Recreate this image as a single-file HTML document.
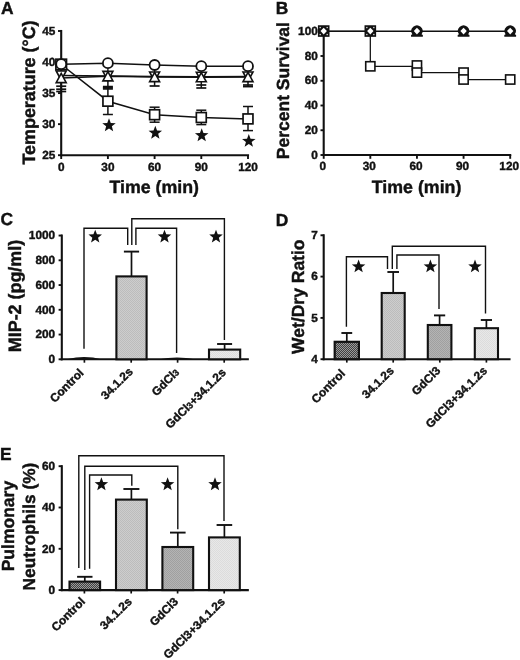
<!DOCTYPE html>
<html><head><meta charset="utf-8"><title>Figure</title>
<style>
html,body{margin:0;padding:0;background:#fff;}
body{width:520px;height:660px;overflow:hidden;font-family:"Liberation Sans",sans-serif;}
svg{display:block;opacity:0.999;will-change:transform;}
text{text-rendering:geometricPrecision;}
</style></head><body>
<svg width="520" height="660" viewBox="0 0 520 660">
<rect width="520" height="660" fill="#fff"/>
<text x="1.10" y="14.00" font-size="17.40" text-anchor="start" font-family="Liberation Sans, sans-serif" font-weight="bold" fill="#111" stroke="#111" stroke-width="0.42" >A</text>
<line x1="61.20" y1="29.95" x2="61.20" y2="156.25" stroke="#111" stroke-width="2.10"/>
<line x1="60.15" y1="155.20" x2="249.05" y2="155.20" stroke="#111" stroke-width="2.10"/>
<line x1="58.00" y1="31.00" x2="61.20" y2="31.00" stroke="#111" stroke-width="1.89"/>
<text x="55.30" y="34.70" font-size="11.80" text-anchor="end" font-family="Liberation Sans, sans-serif" font-weight="bold" fill="#111" stroke="#111" stroke-width="0.42" >45</text>
<line x1="58.00" y1="62.05" x2="61.20" y2="62.05" stroke="#111" stroke-width="1.89"/>
<text x="55.30" y="65.75" font-size="11.80" text-anchor="end" font-family="Liberation Sans, sans-serif" font-weight="bold" fill="#111" stroke="#111" stroke-width="0.42" >40</text>
<line x1="58.00" y1="93.10" x2="61.20" y2="93.10" stroke="#111" stroke-width="1.89"/>
<text x="55.30" y="96.80" font-size="11.80" text-anchor="end" font-family="Liberation Sans, sans-serif" font-weight="bold" fill="#111" stroke="#111" stroke-width="0.42" >35</text>
<line x1="58.00" y1="124.15" x2="61.20" y2="124.15" stroke="#111" stroke-width="1.89"/>
<text x="55.30" y="127.85" font-size="11.80" text-anchor="end" font-family="Liberation Sans, sans-serif" font-weight="bold" fill="#111" stroke="#111" stroke-width="0.42" >30</text>
<line x1="58.00" y1="155.20" x2="61.20" y2="155.20" stroke="#111" stroke-width="1.89"/>
<text x="55.30" y="158.90" font-size="11.80" text-anchor="end" font-family="Liberation Sans, sans-serif" font-weight="bold" fill="#111" stroke="#111" stroke-width="0.42" >25</text>
<line x1="61.20" y1="155.20" x2="61.20" y2="159.00" stroke="#111" stroke-width="1.89"/>
<text x="61.20" y="170.50" font-size="11.80" text-anchor="middle" font-family="Liberation Sans, sans-serif" font-weight="bold" fill="#111" stroke="#111" stroke-width="0.42" >0</text>
<line x1="107.90" y1="155.20" x2="107.90" y2="159.00" stroke="#111" stroke-width="1.89"/>
<text x="107.90" y="170.50" font-size="11.80" text-anchor="middle" font-family="Liberation Sans, sans-serif" font-weight="bold" fill="#111" stroke="#111" stroke-width="0.42" >30</text>
<line x1="154.60" y1="155.20" x2="154.60" y2="159.00" stroke="#111" stroke-width="1.89"/>
<text x="154.60" y="170.50" font-size="11.80" text-anchor="middle" font-family="Liberation Sans, sans-serif" font-weight="bold" fill="#111" stroke="#111" stroke-width="0.42" >60</text>
<line x1="201.30" y1="155.20" x2="201.30" y2="159.00" stroke="#111" stroke-width="1.89"/>
<text x="201.30" y="170.50" font-size="11.80" text-anchor="middle" font-family="Liberation Sans, sans-serif" font-weight="bold" fill="#111" stroke="#111" stroke-width="0.42" >90</text>
<line x1="248.00" y1="155.20" x2="248.00" y2="159.00" stroke="#111" stroke-width="1.89"/>
<text x="248.00" y="170.50" font-size="11.80" text-anchor="middle" font-family="Liberation Sans, sans-serif" font-weight="bold" fill="#111" stroke="#111" stroke-width="0.42" >120</text>
<text x="154.20" y="193.00" font-size="17.80" text-anchor="middle" font-family="Liberation Sans, sans-serif" font-weight="bold" fill="#111" stroke="#111" stroke-width="0.42" >Time (min)</text>
<text x="34.90" y="92.50" font-size="17.90" text-anchor="middle" font-family="Liberation Sans, sans-serif" font-weight="bold" fill="#111" stroke="#111" stroke-width="0.42" transform="rotate(-90 34.90 92.50)" >Temperature (°C)</text>
<line x1="61.20" y1="78.00" x2="61.20" y2="91.50" stroke="#111" stroke-width="1.50"/>
<line x1="56.20" y1="86.20" x2="66.20" y2="86.20" stroke="#111" stroke-width="1.70"/>
<line x1="56.20" y1="89.20" x2="66.20" y2="89.20" stroke="#111" stroke-width="1.70"/>
<line x1="56.20" y1="91.50" x2="66.20" y2="91.50" stroke="#111" stroke-width="1.70"/>
<line x1="107.90" y1="76.30" x2="107.90" y2="88.90" stroke="#111" stroke-width="1.50"/>
<line x1="102.90" y1="86.60" x2="112.90" y2="86.60" stroke="#111" stroke-width="1.70"/>
<line x1="102.90" y1="88.90" x2="112.90" y2="88.90" stroke="#111" stroke-width="1.70"/>
<line x1="154.60" y1="77.00" x2="154.60" y2="86.00" stroke="#111" stroke-width="1.50"/>
<line x1="149.60" y1="86.00" x2="159.60" y2="86.00" stroke="#111" stroke-width="1.70"/>
<line x1="201.30" y1="77.20" x2="201.30" y2="88.00" stroke="#111" stroke-width="1.50"/>
<line x1="196.30" y1="85.00" x2="206.30" y2="85.00" stroke="#111" stroke-width="1.70"/>
<line x1="196.30" y1="88.00" x2="206.30" y2="88.00" stroke="#111" stroke-width="1.70"/>
<line x1="248.00" y1="77.00" x2="248.00" y2="86.60" stroke="#111" stroke-width="1.50"/>
<line x1="243.00" y1="85.00" x2="253.00" y2="85.00" stroke="#111" stroke-width="1.70"/>
<line x1="243.00" y1="86.60" x2="253.00" y2="86.60" stroke="#111" stroke-width="1.70"/>
<line x1="107.90" y1="87.60" x2="107.90" y2="114.50" stroke="#111" stroke-width="1.50"/>
<line x1="102.90" y1="87.60" x2="112.90" y2="87.60" stroke="#111" stroke-width="1.50"/>
<line x1="102.90" y1="114.50" x2="112.90" y2="114.50" stroke="#111" stroke-width="1.50"/>
<line x1="154.60" y1="107.20" x2="154.60" y2="122.20" stroke="#111" stroke-width="1.50"/>
<line x1="149.60" y1="107.20" x2="159.60" y2="107.20" stroke="#111" stroke-width="1.50"/>
<line x1="149.60" y1="122.20" x2="159.60" y2="122.20" stroke="#111" stroke-width="1.50"/>
<line x1="201.30" y1="110.20" x2="201.30" y2="124.60" stroke="#111" stroke-width="1.50"/>
<line x1="196.30" y1="110.20" x2="206.30" y2="110.20" stroke="#111" stroke-width="1.50"/>
<line x1="196.30" y1="124.60" x2="206.30" y2="124.60" stroke="#111" stroke-width="1.50"/>
<line x1="248.00" y1="106.50" x2="248.00" y2="130.60" stroke="#111" stroke-width="1.50"/>
<line x1="243.00" y1="106.50" x2="253.00" y2="106.50" stroke="#111" stroke-width="1.50"/>
<line x1="243.00" y1="130.60" x2="253.00" y2="130.60" stroke="#111" stroke-width="1.50"/>
<line x1="61.20" y1="64.20" x2="61.20" y2="78.00" stroke="#111" stroke-width="1.30"/>
<line x1="107.90" y1="63.20" x2="107.90" y2="76.30" stroke="#111" stroke-width="1.30"/>
<line x1="154.60" y1="65.00" x2="154.60" y2="77.00" stroke="#111" stroke-width="1.30"/>
<line x1="201.30" y1="66.20" x2="201.30" y2="77.20" stroke="#111" stroke-width="1.30"/>
<line x1="248.00" y1="66.20" x2="248.00" y2="77.00" stroke="#111" stroke-width="1.30"/>
<polyline points="61.20,64.50 107.90,101.20 154.60,114.70 201.30,117.50 248.00,118.90" fill="none" stroke="#111" stroke-width="1.50" stroke-linejoin="miter"/>
<polyline points="61.20,78.00 107.90,76.30 154.60,77.00 201.30,77.20 248.00,77.00" fill="none" stroke="#111" stroke-width="1.50" stroke-linejoin="miter"/>
<polyline points="61.20,75.60 107.90,76.00 154.60,76.60 201.30,76.80 248.00,76.60" fill="none" stroke="#111" stroke-width="1.50" stroke-linejoin="miter"/>
<polyline points="61.20,64.20 107.90,63.20 154.60,65.00 201.30,66.20 248.00,66.20" fill="none" stroke="#111" stroke-width="1.50" stroke-linejoin="miter"/>
<rect x="55.90" y="59.20" width="10.60" height="10.60" fill="#fff" stroke="#111" stroke-width="1.70"/>
<rect x="102.95" y="96.25" width="9.90" height="9.90" fill="#fff" stroke="#111" stroke-width="1.70"/>
<rect x="149.65" y="109.75" width="9.90" height="9.90" fill="#fff" stroke="#111" stroke-width="1.70"/>
<rect x="196.35" y="112.55" width="9.90" height="9.90" fill="#fff" stroke="#111" stroke-width="1.70"/>
<rect x="243.05" y="113.95" width="9.90" height="9.90" fill="#fff" stroke="#111" stroke-width="1.70"/>
<polygon points="61.20,80.20 66.20,71.00 56.20,71.00" fill="#fff" stroke="#111" stroke-width="1.60"/>
<polygon points="107.90,80.60 112.90,71.40 102.90,71.40" fill="#fff" stroke="#111" stroke-width="1.60"/>
<polygon points="154.60,81.20 159.60,72.00 149.60,72.00" fill="#fff" stroke="#111" stroke-width="1.60"/>
<polygon points="201.30,81.40 206.30,72.20 196.30,72.20" fill="#fff" stroke="#111" stroke-width="1.60"/>
<polygon points="248.00,81.20 253.00,72.00 243.00,72.00" fill="#fff" stroke="#111" stroke-width="1.60"/>
<polygon points="61.20,73.40 66.20,82.60 56.20,82.60" fill="#fff" stroke="#111" stroke-width="1.60"/>
<polygon points="107.90,71.70 112.90,80.90 102.90,80.90" fill="#fff" stroke="#111" stroke-width="1.60"/>
<polygon points="154.60,72.40 159.60,81.60 149.60,81.60" fill="#fff" stroke="#111" stroke-width="1.60"/>
<polygon points="201.30,72.60 206.30,81.80 196.30,81.80" fill="#fff" stroke="#111" stroke-width="1.60"/>
<polygon points="248.00,72.40 253.00,81.60 243.00,81.60" fill="#fff" stroke="#111" stroke-width="1.60"/>
<circle cx="61.20" cy="64.20" r="5.00" fill="#fff" stroke="#111" stroke-width="1.80"/>
<circle cx="107.90" cy="63.20" r="5.00" fill="#fff" stroke="#111" stroke-width="1.80"/>
<circle cx="154.60" cy="65.00" r="5.00" fill="#fff" stroke="#111" stroke-width="1.80"/>
<circle cx="201.30" cy="66.20" r="5.00" fill="#fff" stroke="#111" stroke-width="1.80"/>
<circle cx="248.00" cy="66.20" r="5.00" fill="#fff" stroke="#111" stroke-width="1.80"/>
<polygon points="109.00,118.30 110.76,122.97 115.75,123.21 111.85,126.33 113.17,131.14 109.00,128.40 104.83,131.14 106.15,126.33 102.25,123.21 107.24,122.97" fill="#111"/>
<polygon points="155.30,125.80 157.06,130.47 162.05,130.71 158.15,133.83 159.47,138.64 155.30,135.90 151.13,138.64 152.45,133.83 148.55,130.71 153.54,130.47" fill="#111"/>
<polygon points="201.70,128.30 203.46,132.97 208.45,133.21 204.55,136.33 205.87,141.14 201.70,138.40 197.53,141.14 198.85,136.33 194.95,133.21 199.94,132.97" fill="#111"/>
<polygon points="248.80,134.00 250.56,138.67 255.55,138.91 251.65,142.03 252.97,146.84 248.80,144.10 244.63,146.84 245.95,142.03 242.05,138.91 247.04,138.67" fill="#111"/>
<text x="275.70" y="13.90" font-size="17.40" text-anchor="start" font-family="Liberation Sans, sans-serif" font-weight="bold" fill="#111" stroke="#111" stroke-width="0.42" >B</text>
<line x1="323.70" y1="30.20" x2="323.70" y2="156.05" stroke="#111" stroke-width="2.10"/>
<line x1="322.65" y1="155.00" x2="511.25" y2="155.00" stroke="#111" stroke-width="2.10"/>
<line x1="320.50" y1="31.25" x2="323.70" y2="31.25" stroke="#111" stroke-width="1.89"/>
<text x="317.80" y="34.95" font-size="11.80" text-anchor="end" font-family="Liberation Sans, sans-serif" font-weight="bold" fill="#111" stroke="#111" stroke-width="0.42" >100</text>
<line x1="320.50" y1="56.00" x2="323.70" y2="56.00" stroke="#111" stroke-width="1.89"/>
<text x="317.80" y="59.70" font-size="11.80" text-anchor="end" font-family="Liberation Sans, sans-serif" font-weight="bold" fill="#111" stroke="#111" stroke-width="0.42" >80</text>
<line x1="320.50" y1="80.75" x2="323.70" y2="80.75" stroke="#111" stroke-width="1.89"/>
<text x="317.80" y="84.45" font-size="11.80" text-anchor="end" font-family="Liberation Sans, sans-serif" font-weight="bold" fill="#111" stroke="#111" stroke-width="0.42" >60</text>
<line x1="320.50" y1="105.50" x2="323.70" y2="105.50" stroke="#111" stroke-width="1.89"/>
<text x="317.80" y="109.20" font-size="11.80" text-anchor="end" font-family="Liberation Sans, sans-serif" font-weight="bold" fill="#111" stroke="#111" stroke-width="0.42" >40</text>
<line x1="320.50" y1="130.25" x2="323.70" y2="130.25" stroke="#111" stroke-width="1.89"/>
<text x="317.80" y="133.95" font-size="11.80" text-anchor="end" font-family="Liberation Sans, sans-serif" font-weight="bold" fill="#111" stroke="#111" stroke-width="0.42" >20</text>
<line x1="320.50" y1="155.00" x2="323.70" y2="155.00" stroke="#111" stroke-width="1.89"/>
<text x="317.80" y="158.70" font-size="11.80" text-anchor="end" font-family="Liberation Sans, sans-serif" font-weight="bold" fill="#111" stroke="#111" stroke-width="0.42" >0</text>
<line x1="323.70" y1="155.00" x2="323.70" y2="158.80" stroke="#111" stroke-width="1.89"/>
<text x="322.70" y="170.30" font-size="11.80" text-anchor="middle" font-family="Liberation Sans, sans-serif" font-weight="bold" fill="#111" stroke="#111" stroke-width="0.42" >0</text>
<line x1="370.32" y1="155.00" x2="370.32" y2="158.80" stroke="#111" stroke-width="1.89"/>
<text x="369.32" y="170.30" font-size="11.80" text-anchor="middle" font-family="Liberation Sans, sans-serif" font-weight="bold" fill="#111" stroke="#111" stroke-width="0.42" >30</text>
<line x1="416.95" y1="155.00" x2="416.95" y2="158.80" stroke="#111" stroke-width="1.89"/>
<text x="415.95" y="170.30" font-size="11.80" text-anchor="middle" font-family="Liberation Sans, sans-serif" font-weight="bold" fill="#111" stroke="#111" stroke-width="0.42" >60</text>
<line x1="463.57" y1="155.00" x2="463.57" y2="158.80" stroke="#111" stroke-width="1.89"/>
<text x="462.57" y="170.30" font-size="11.80" text-anchor="middle" font-family="Liberation Sans, sans-serif" font-weight="bold" fill="#111" stroke="#111" stroke-width="0.42" >90</text>
<line x1="510.20" y1="155.00" x2="510.20" y2="158.80" stroke="#111" stroke-width="1.89"/>
<text x="509.20" y="170.30" font-size="11.80" text-anchor="middle" font-family="Liberation Sans, sans-serif" font-weight="bold" fill="#111" stroke="#111" stroke-width="0.42" >120</text>
<text x="416.60" y="193.00" font-size="17.80" text-anchor="middle" font-family="Liberation Sans, sans-serif" font-weight="bold" fill="#111" stroke="#111" stroke-width="0.42" >Time (min)</text>
<text x="289.40" y="90.60" font-size="17.50" text-anchor="middle" font-family="Liberation Sans, sans-serif" font-weight="bold" fill="#111" stroke="#111" stroke-width="0.42" transform="rotate(-90 289.40 90.60)" >Percent Survival</text>
<polyline points="323.70,31.25 370.32,31.25 370.32,66.30 416.95,66.30 416.95,72.60 463.57,72.60 463.57,79.50 510.20,79.50" fill="none" stroke="#111" stroke-width="1.25" stroke-linejoin="miter"/>
<line x1="323.70" y1="31.25" x2="510.20" y2="31.25" stroke="#111" stroke-width="1.60"/>
<rect x="365.72" y="61.70" width="9.20" height="9.20" fill="#fff" stroke="#111" stroke-width="1.60"/>
<rect x="412.35" y="60.90" width="9.20" height="9.20" fill="#fff" stroke="#111" stroke-width="1.60"/>
<rect x="412.35" y="68.00" width="9.20" height="9.20" fill="#fff" stroke="#111" stroke-width="1.60"/>
<rect x="458.97" y="68.00" width="9.20" height="9.20" fill="#fff" stroke="#111" stroke-width="1.60"/>
<rect x="458.97" y="74.90" width="9.20" height="9.20" fill="#fff" stroke="#111" stroke-width="1.60"/>
<rect x="505.60" y="74.90" width="9.20" height="9.20" fill="#fff" stroke="#111" stroke-width="1.60"/>
<rect x="317.90" y="25.25" width="11.6" height="11.6" fill="#111"/>
<polygon points="323.70,27.65 326.90,31.05 323.70,34.45 320.50,31.05" fill="#fff"/>
<rect x="319.55" y="26.90" width="1.3" height="1.3" fill="#ddd"/>
<rect x="319.55" y="33.90" width="1.3" height="1.3" fill="#ddd"/>
<rect x="326.55" y="26.90" width="1.3" height="1.3" fill="#ddd"/>
<rect x="326.55" y="33.90" width="1.3" height="1.3" fill="#ddd"/>
<rect x="364.52" y="25.25" width="11.6" height="11.6" fill="#111"/>
<polygon points="370.32,27.65 373.52,31.05 370.32,34.45 367.12,31.05" fill="#fff"/>
<rect x="366.18" y="26.90" width="1.3" height="1.3" fill="#ddd"/>
<rect x="366.18" y="33.90" width="1.3" height="1.3" fill="#ddd"/>
<rect x="373.18" y="26.90" width="1.3" height="1.3" fill="#ddd"/>
<rect x="373.18" y="33.90" width="1.3" height="1.3" fill="#ddd"/>
<path d="M411.05,36.85 L411.05,35.05 L412.35,34.25 A5.6,5.6 0 1 1 421.55,34.25 L422.85,35.05 L422.85,36.85 Z" fill="#111"/>
<polygon points="416.95,27.65 420.15,31.05 416.95,34.45 413.75,31.05" fill="#fff"/>
<path d="M457.68,36.85 L457.68,35.05 L458.97,34.25 A5.6,5.6 0 1 1 468.18,34.25 L469.47,35.05 L469.47,36.85 Z" fill="#111"/>
<polygon points="463.57,27.65 466.77,31.05 463.57,34.45 460.38,31.05" fill="#fff"/>
<path d="M504.30,36.85 L504.30,35.05 L505.60,34.25 A5.6,5.6 0 1 1 514.80,34.25 L516.10,35.05 L516.10,36.85 Z" fill="#111"/>
<polygon points="510.20,27.65 513.40,31.05 510.20,34.45 507.00,31.05" fill="#fff"/>
<defs>
<pattern id="pd" width="2" height="2" patternUnits="userSpaceOnUse"><rect width="2" height="2" fill="#404040"/><rect width="1" height="1" fill="#9a9a9a"/><rect x="1" y="1" width="1" height="1" fill="#9a9a9a"/></pattern>
<pattern id="pl" width="2" height="2" patternUnits="userSpaceOnUse"><rect width="2" height="2" fill="#cdcdcd"/><rect width="1" height="1" fill="#bcbcbc"/><rect x="1" y="1" width="1" height="1" fill="#bcbcbc"/></pattern>
<pattern id="pm" width="2" height="2" patternUnits="userSpaceOnUse"><rect width="2" height="2" fill="#b4b4b4"/><rect width="1" height="1" fill="#a0a0a0"/><rect x="1" y="1" width="1" height="1" fill="#a0a0a0"/></pattern>
<pattern id="pv" width="2" height="2" patternUnits="userSpaceOnUse"><rect width="2" height="2" fill="#e8e8e8"/><rect width="1" height="1" fill="#dcdcdc"/><rect x="1" y="1" width="1" height="1" fill="#dcdcdc"/></pattern>
</defs>
<text x="0.40" y="225.40" font-size="17.40" text-anchor="start" font-family="Liberation Sans, sans-serif" font-weight="bold" fill="#111" stroke="#111" stroke-width="0.42" >C</text>
<line x1="61.80" y1="234.50" x2="61.80" y2="360.35" stroke="#111" stroke-width="2.10"/>
<line x1="60.75" y1="359.30" x2="248.85" y2="359.30" stroke="#111" stroke-width="2.10"/>
<line x1="58.60" y1="235.55" x2="61.80" y2="235.55" stroke="#111" stroke-width="1.89"/>
<text x="55.10" y="239.25" font-size="11.80" text-anchor="end" font-family="Liberation Sans, sans-serif" font-weight="bold" fill="#111" stroke="#111" stroke-width="0.42" >1000</text>
<line x1="58.60" y1="260.30" x2="61.80" y2="260.30" stroke="#111" stroke-width="1.89"/>
<text x="55.10" y="264.00" font-size="11.80" text-anchor="end" font-family="Liberation Sans, sans-serif" font-weight="bold" fill="#111" stroke="#111" stroke-width="0.42" >800</text>
<line x1="58.60" y1="285.05" x2="61.80" y2="285.05" stroke="#111" stroke-width="1.89"/>
<text x="55.10" y="288.75" font-size="11.80" text-anchor="end" font-family="Liberation Sans, sans-serif" font-weight="bold" fill="#111" stroke="#111" stroke-width="0.42" >600</text>
<line x1="58.60" y1="309.80" x2="61.80" y2="309.80" stroke="#111" stroke-width="1.89"/>
<text x="55.10" y="313.50" font-size="11.80" text-anchor="end" font-family="Liberation Sans, sans-serif" font-weight="bold" fill="#111" stroke="#111" stroke-width="0.42" >400</text>
<line x1="58.60" y1="334.55" x2="61.80" y2="334.55" stroke="#111" stroke-width="1.89"/>
<text x="55.10" y="338.25" font-size="11.80" text-anchor="end" font-family="Liberation Sans, sans-serif" font-weight="bold" fill="#111" stroke="#111" stroke-width="0.42" >200</text>
<line x1="58.60" y1="359.30" x2="61.80" y2="359.30" stroke="#111" stroke-width="1.89"/>
<text x="55.10" y="363.00" font-size="11.80" text-anchor="end" font-family="Liberation Sans, sans-serif" font-weight="bold" fill="#111" stroke="#111" stroke-width="0.42" >0</text>
<line x1="84.40" y1="359.30" x2="84.40" y2="362.70" stroke="#111" stroke-width="1.68"/>
<line x1="131.20" y1="359.30" x2="131.20" y2="362.70" stroke="#111" stroke-width="1.68"/>
<line x1="177.60" y1="359.30" x2="177.60" y2="362.70" stroke="#111" stroke-width="1.68"/>
<line x1="224.20" y1="359.30" x2="224.20" y2="362.70" stroke="#111" stroke-width="1.68"/>
<text x="21.20" y="296.00" font-size="17.90" text-anchor="middle" font-family="Liberation Sans, sans-serif" font-weight="bold" fill="#111" stroke="#111" stroke-width="0.42" transform="rotate(-90 21.20 296.00)" >MIP-2 (pg/ml)</text>
<polyline points="84.00,348.80 84.00,228.20 127.70,228.20 127.70,245.00" fill="none" stroke="#111" stroke-width="1.40" stroke-linejoin="miter"/>
<polyline points="131.80,245.00 131.80,218.70 224.40,218.70 224.40,340.00" fill="none" stroke="#111" stroke-width="1.40" stroke-linejoin="miter"/>
<polyline points="135.90,245.00 135.90,228.20 176.60,228.20 176.60,353.00" fill="none" stroke="#111" stroke-width="1.40" stroke-linejoin="miter"/>
<polygon points="95.20,229.70 96.96,234.37 101.95,234.61 98.05,237.73 99.37,242.54 95.20,239.80 91.03,242.54 92.35,237.73 88.45,234.61 93.44,234.37" fill="#111"/>
<polygon points="164.50,229.70 166.26,234.37 171.25,234.61 167.35,237.73 168.67,242.54 164.50,239.80 160.33,242.54 161.65,237.73 157.75,234.61 162.74,234.37" fill="#111"/>
<polygon points="216.00,229.70 217.76,234.37 222.75,234.61 218.85,237.73 220.17,242.54 216.00,239.80 211.83,242.54 213.15,237.73 209.25,234.61 214.24,234.37" fill="#111"/>
<path d="M68,359 L76,357.6 L84,357.1 L93,357.6 L100,359 Z" fill="#111"/>
<line x1="131.50" y1="251.60" x2="131.50" y2="276.40" stroke="#111" stroke-width="1.70"/>
<line x1="123.90" y1="251.60" x2="139.10" y2="251.60" stroke="#111" stroke-width="1.90"/>
<rect x="116.40" y="276.40" width="30.20" height="82.90" fill="url(#pl)" stroke="#111" stroke-width="2.10"/>
<path d="M161,359 L168,357.9 L177,357.4 L186,357.9 L193,359 Z" fill="#111"/>
<line x1="224.60" y1="344.00" x2="224.60" y2="349.60" stroke="#111" stroke-width="1.70"/>
<line x1="217.10" y1="344.00" x2="232.10" y2="344.00" stroke="#111" stroke-width="1.90"/>
<rect x="209.00" y="349.60" width="31.20" height="9.70" fill="url(#pv)" stroke="#111" stroke-width="2.10"/>
<text x="84.40" y="373.60" font-size="11.80" text-anchor="end" font-family="Liberation Sans, sans-serif" font-weight="bold" fill="#111" stroke="#111" stroke-width="0.42" transform="rotate(-45 84.40 373.60)" >Control</text>
<text x="133.60" y="372.30" font-size="11.80" text-anchor="end" font-family="Liberation Sans, sans-serif" font-weight="bold" fill="#111" stroke="#111" stroke-width="0.42" transform="rotate(-45 133.60 372.30)" >34.1.2s</text>
<text x="180.00" y="373.10" font-size="11.80" text-anchor="end" font-family="Liberation Sans, sans-serif" font-weight="bold" fill="#111" stroke="#111" stroke-width="0.42" transform="rotate(-45 180.00 373.10)" >GdCl<tspan font-size="9.2">3</tspan></text>
<text x="226.60" y="373.10" font-size="11.80" text-anchor="end" font-family="Liberation Sans, sans-serif" font-weight="bold" fill="#111" stroke="#111" stroke-width="0.42" transform="rotate(-45 226.60 373.10)" >GdCl<tspan font-size="9.2">3</tspan>+34.1.2s</text>
<text x="275.70" y="225.50" font-size="17.40" text-anchor="start" font-family="Liberation Sans, sans-serif" font-weight="bold" fill="#111" stroke="#111" stroke-width="0.42" >D</text>
<line x1="323.70" y1="234.25" x2="323.70" y2="360.25" stroke="#111" stroke-width="2.10"/>
<line x1="322.65" y1="359.20" x2="510.55" y2="359.20" stroke="#111" stroke-width="2.10"/>
<line x1="320.50" y1="235.30" x2="323.70" y2="235.30" stroke="#111" stroke-width="1.89"/>
<text x="317.80" y="239.00" font-size="11.80" text-anchor="end" font-family="Liberation Sans, sans-serif" font-weight="bold" fill="#111" stroke="#111" stroke-width="0.42" >7</text>
<line x1="320.50" y1="276.60" x2="323.70" y2="276.60" stroke="#111" stroke-width="1.89"/>
<text x="317.80" y="280.30" font-size="11.80" text-anchor="end" font-family="Liberation Sans, sans-serif" font-weight="bold" fill="#111" stroke="#111" stroke-width="0.42" >6</text>
<line x1="320.50" y1="317.90" x2="323.70" y2="317.90" stroke="#111" stroke-width="1.89"/>
<text x="317.80" y="321.60" font-size="11.80" text-anchor="end" font-family="Liberation Sans, sans-serif" font-weight="bold" fill="#111" stroke="#111" stroke-width="0.42" >5</text>
<line x1="320.50" y1="359.20" x2="323.70" y2="359.20" stroke="#111" stroke-width="1.89"/>
<text x="317.80" y="362.90" font-size="11.80" text-anchor="end" font-family="Liberation Sans, sans-serif" font-weight="bold" fill="#111" stroke="#111" stroke-width="0.42" >4</text>
<line x1="346.80" y1="359.20" x2="346.80" y2="362.60" stroke="#111" stroke-width="1.68"/>
<line x1="393.20" y1="359.20" x2="393.20" y2="362.60" stroke="#111" stroke-width="1.68"/>
<line x1="439.80" y1="359.20" x2="439.80" y2="362.60" stroke="#111" stroke-width="1.68"/>
<line x1="486.40" y1="359.20" x2="486.40" y2="362.60" stroke="#111" stroke-width="1.68"/>
<text x="303.70" y="296.70" font-size="17.50" text-anchor="middle" font-family="Liberation Sans, sans-serif" font-weight="bold" fill="#111" stroke="#111" stroke-width="0.42" transform="rotate(-90 303.70 296.70)" >Wet/Dry Ratio</text>
<polyline points="346.40,326.80 346.40,256.80 387.50,256.80 387.50,269.00" fill="none" stroke="#111" stroke-width="1.40" stroke-linejoin="miter"/>
<polyline points="392.30,269.00 392.30,246.20 485.50,246.20 485.50,313.50" fill="none" stroke="#111" stroke-width="1.40" stroke-linejoin="miter"/>
<polyline points="396.90,269.00 396.90,255.00 439.00,255.00 439.00,309.00" fill="none" stroke="#111" stroke-width="1.40" stroke-linejoin="miter"/>
<polygon points="358.60,259.50 360.36,264.17 365.35,264.41 361.45,267.53 362.77,272.34 358.60,269.60 354.43,272.34 355.75,267.53 351.85,264.41 356.84,264.17" fill="#111"/>
<polygon points="430.40,259.50 432.16,264.17 437.15,264.41 433.25,267.53 434.57,272.34 430.40,269.60 426.23,272.34 427.55,267.53 423.65,264.41 428.64,264.17" fill="#111"/>
<polygon points="475.00,259.50 476.76,264.17 481.75,264.41 477.85,267.53 479.17,272.34 475.00,269.60 470.83,272.34 472.15,267.53 468.25,264.41 473.24,264.17" fill="#111"/>
<line x1="346.80" y1="333.00" x2="346.80" y2="341.80" stroke="#111" stroke-width="1.70"/>
<line x1="341.40" y1="333.00" x2="352.20" y2="333.00" stroke="#111" stroke-width="1.90"/>
<rect x="334.70" y="341.80" width="24.20" height="17.40" fill="url(#pd)" stroke="#111" stroke-width="2.20"/>
<line x1="393.20" y1="272.00" x2="393.20" y2="293.00" stroke="#111" stroke-width="1.70"/>
<line x1="387.40" y1="272.00" x2="399.00" y2="272.00" stroke="#111" stroke-width="1.90"/>
<rect x="381.70" y="293.00" width="23.00" height="66.20" fill="url(#pl)" stroke="#111" stroke-width="2.10"/>
<line x1="439.60" y1="315.40" x2="439.60" y2="325.00" stroke="#111" stroke-width="1.70"/>
<line x1="434.00" y1="315.40" x2="445.20" y2="315.40" stroke="#111" stroke-width="1.90"/>
<rect x="427.80" y="325.00" width="23.60" height="34.20" fill="url(#pm)" stroke="#111" stroke-width="2.10"/>
<line x1="486.40" y1="320.00" x2="486.40" y2="328.20" stroke="#111" stroke-width="1.70"/>
<line x1="480.80" y1="320.00" x2="492.00" y2="320.00" stroke="#111" stroke-width="1.90"/>
<rect x="474.80" y="328.20" width="23.20" height="31.00" fill="url(#pv)" stroke="#111" stroke-width="2.10"/>
<text x="345.80" y="374.30" font-size="11.80" text-anchor="end" font-family="Liberation Sans, sans-serif" font-weight="bold" fill="#111" stroke="#111" stroke-width="0.42" transform="rotate(-45 345.80 374.30)" >Control</text>
<text x="394.60" y="371.40" font-size="11.80" text-anchor="end" font-family="Liberation Sans, sans-serif" font-weight="bold" fill="#111" stroke="#111" stroke-width="0.42" transform="rotate(-45 394.60 371.40)" >34.1.2s</text>
<text x="441.20" y="371.40" font-size="11.80" text-anchor="end" font-family="Liberation Sans, sans-serif" font-weight="bold" fill="#111" stroke="#111" stroke-width="0.42" transform="rotate(-45 441.20 371.40)" >GdCl3</text>
<text x="487.80" y="371.40" font-size="11.80" text-anchor="end" font-family="Liberation Sans, sans-serif" font-weight="bold" fill="#111" stroke="#111" stroke-width="0.42" transform="rotate(-45 487.80 371.40)" >GdCl3+34.1.2s</text>
<text x="0.00" y="460.20" font-size="17.40" text-anchor="start" font-family="Liberation Sans, sans-serif" font-weight="bold" fill="#111" stroke="#111" stroke-width="0.42" >E</text>
<line x1="61.80" y1="465.15" x2="61.80" y2="591.15" stroke="#111" stroke-width="2.10"/>
<line x1="60.75" y1="590.10" x2="248.85" y2="590.10" stroke="#111" stroke-width="2.10"/>
<line x1="58.60" y1="466.20" x2="61.80" y2="466.20" stroke="#111" stroke-width="1.89"/>
<text x="55.10" y="469.90" font-size="11.80" text-anchor="end" font-family="Liberation Sans, sans-serif" font-weight="bold" fill="#111" stroke="#111" stroke-width="0.42" >60</text>
<line x1="58.60" y1="507.50" x2="61.80" y2="507.50" stroke="#111" stroke-width="1.89"/>
<text x="55.10" y="511.20" font-size="11.80" text-anchor="end" font-family="Liberation Sans, sans-serif" font-weight="bold" fill="#111" stroke="#111" stroke-width="0.42" >40</text>
<line x1="58.60" y1="548.80" x2="61.80" y2="548.80" stroke="#111" stroke-width="1.89"/>
<text x="55.10" y="552.50" font-size="11.80" text-anchor="end" font-family="Liberation Sans, sans-serif" font-weight="bold" fill="#111" stroke="#111" stroke-width="0.42" >20</text>
<line x1="58.60" y1="590.10" x2="61.80" y2="590.10" stroke="#111" stroke-width="1.89"/>
<text x="55.10" y="593.80" font-size="11.80" text-anchor="end" font-family="Liberation Sans, sans-serif" font-weight="bold" fill="#111" stroke="#111" stroke-width="0.42" >0</text>
<line x1="84.40" y1="590.10" x2="84.40" y2="593.50" stroke="#111" stroke-width="1.68"/>
<line x1="131.20" y1="590.10" x2="131.20" y2="593.50" stroke="#111" stroke-width="1.68"/>
<line x1="177.60" y1="590.10" x2="177.60" y2="593.50" stroke="#111" stroke-width="1.68"/>
<line x1="224.20" y1="590.10" x2="224.20" y2="593.50" stroke="#111" stroke-width="1.68"/>
<text x="13.60" y="526.10" font-size="17.50" text-anchor="middle" font-family="Liberation Sans, sans-serif" font-weight="bold" fill="#111" stroke="#111" stroke-width="0.42" transform="rotate(-90 13.60 526.10)" >Pulmonary</text>
<text x="34.60" y="526.60" font-size="17.30" text-anchor="middle" font-family="Liberation Sans, sans-serif" font-weight="bold" fill="#111" stroke="#111" stroke-width="0.42" transform="rotate(-90 34.60 526.60)" >Neutrophils (%)</text>
<polyline points="78.80,568.00 78.80,455.70 224.00,455.70 224.00,521.00" fill="none" stroke="#111" stroke-width="1.40" stroke-linejoin="miter"/>
<polyline points="84.80,570.00 84.80,466.30 177.80,466.30 177.80,529.20" fill="none" stroke="#111" stroke-width="1.40" stroke-linejoin="miter"/>
<polyline points="89.60,568.80 89.60,475.00 131.80,475.00 131.80,485.80" fill="none" stroke="#111" stroke-width="1.40" stroke-linejoin="miter"/>
<polygon points="101.40,477.30 103.16,481.97 108.15,482.21 104.25,485.33 105.57,490.14 101.40,487.40 97.23,490.14 98.55,485.33 94.65,482.21 99.64,481.97" fill="#111"/>
<polygon points="167.60,477.30 169.36,481.97 174.35,482.21 170.45,485.33 171.77,490.14 167.60,487.40 163.43,490.14 164.75,485.33 160.85,482.21 165.84,481.97" fill="#111"/>
<polygon points="215.00,477.30 216.76,481.97 221.75,482.21 217.85,485.33 219.17,490.14 215.00,487.40 210.83,490.14 212.15,485.33 208.25,482.21 213.24,481.97" fill="#111"/>
<line x1="84.80" y1="576.80" x2="84.80" y2="581.60" stroke="#111" stroke-width="1.70"/>
<line x1="77.10" y1="576.80" x2="92.50" y2="576.80" stroke="#111" stroke-width="1.90"/>
<rect x="69.50" y="581.60" width="30.60" height="8.50" fill="url(#pd)" stroke="#111" stroke-width="2.10"/>
<line x1="131.40" y1="489.00" x2="131.40" y2="499.60" stroke="#111" stroke-width="1.70"/>
<line x1="123.40" y1="489.00" x2="139.40" y2="489.00" stroke="#111" stroke-width="1.90"/>
<rect x="116.00" y="499.60" width="30.80" height="90.50" fill="url(#pl)" stroke="#111" stroke-width="2.10"/>
<line x1="177.80" y1="532.60" x2="177.80" y2="547.00" stroke="#111" stroke-width="1.70"/>
<line x1="170.00" y1="532.60" x2="185.60" y2="532.60" stroke="#111" stroke-width="1.90"/>
<rect x="162.40" y="547.00" width="30.80" height="43.10" fill="url(#pm)" stroke="#111" stroke-width="2.10"/>
<line x1="224.40" y1="525.00" x2="224.40" y2="537.40" stroke="#111" stroke-width="1.70"/>
<line x1="216.60" y1="525.00" x2="232.20" y2="525.00" stroke="#111" stroke-width="1.90"/>
<rect x="209.00" y="537.40" width="30.80" height="52.70" fill="url(#pv)" stroke="#111" stroke-width="2.10"/>
<text x="85.80" y="602.30" font-size="11.80" text-anchor="end" font-family="Liberation Sans, sans-serif" font-weight="bold" fill="#111" stroke="#111" stroke-width="0.42" transform="rotate(-45 85.80 602.30)" >Control</text>
<text x="132.60" y="602.30" font-size="11.80" text-anchor="end" font-family="Liberation Sans, sans-serif" font-weight="bold" fill="#111" stroke="#111" stroke-width="0.42" transform="rotate(-45 132.60 602.30)" >34.1.2s</text>
<text x="179.00" y="602.30" font-size="11.80" text-anchor="end" font-family="Liberation Sans, sans-serif" font-weight="bold" fill="#111" stroke="#111" stroke-width="0.42" transform="rotate(-45 179.00 602.30)" >GdCl3</text>
<text x="225.60" y="602.30" font-size="11.80" text-anchor="end" font-family="Liberation Sans, sans-serif" font-weight="bold" fill="#111" stroke="#111" stroke-width="0.42" transform="rotate(-45 225.60 602.30)" >GdCl3+34.1.2s</text>
</svg>
</body></html>
